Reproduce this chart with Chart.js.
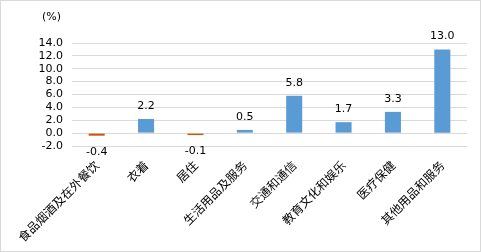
<!DOCTYPE html>
<html lang="zh">
<head>
    <meta charset="UTF-8">
    <title>各类商品及服务价格变动</title>
    <script src="https://cdn.jsdelivr.net/npm/chart.js"></script>
    <style>
        body { margin: 0; background: #fff; }
        #wrap {
            width: 481px;
            height: 252px;
            box-sizing: border-box;
            border: 1px solid #d9d9d9;
        }
    </style>
</head>
<body>
    <div id="wrap"><canvas id="priceChart" width="479" height="250"></canvas></div>
    <script>
        const categories = ['食品烟酒及在外餐饮', '衣着', '居住', '生活用品及服务', '交通和通信', '教育文化和娱乐', '医疗保健', '其他用品和服务'];
        const values = [-0.4, 2.2, -0.1, 0.5, 5.8, 1.7, 3.3, 13.0];
        const yTicks = [-2, 0, 2, 4, 6, 8, 10, 12, 14];

        // value labels above (or under, when negative) each bar, plus the (%) unit
        const valueLabels = {
            id: 'valueLabels',
            afterDatasetsDraw(chart) {
                const c = chart.ctx;
                const meta = chart.getDatasetMeta(0);
                c.save();
                c.font = '11px "DejaVu Sans", sans-serif';
                c.fillStyle = '#000';
                c.textAlign = 'center';
                c.textBaseline = 'middle';
                meta.data.forEach((bar, i) => {
                    const v = values[i];
                    const y = v >= 0 ? bar.y - 13 : bar.y + 16;
                    c.fillText(v.toFixed(1), bar.x, y);
                });
                c.textAlign = 'left';
                c.fillText('(%)', 41, 16);
                c.restore();
            }
        };

        const ctx = document.getElementById('priceChart').getContext('2d');
        new Chart(ctx, {
            type: 'bar',
            data: {
                labels: categories,
                datasets: [{
                    data: values,
                    backgroundColor: values.map(v => v < 0 ? '#c55a11' : '#5b9bd5'),
                    barPercentage: 0.65,
                    categoryPercentage: 0.5,
                    minBarLength: 2
                }]
            },
            options: {
                responsive: false,
                animation: false,
                layout: { padding: { top: 42, right: 13, bottom: 0, left: 0 } },
                plugins: {
                    legend: { display: false },
                    tooltip: { enabled: false }
                },
                scales: {
                    x: {
                        grid: { display: false, drawTicks: false },
                        border: { display: false },
                        ticks: {
                            color: '#000',
                            font: { family: '"Noto Sans CJK SC", sans-serif', size: 12 },
                            minRotation: 45,
                            maxRotation: 45,
                            autoSkip: false,
                            padding: 12,
                            labelOffset: 0
                        },
                        afterFit(scale) { scale.height = 105; }
                    },
                    y: {
                        min: -2,
                        max: 14,
                        afterBuildTicks(scale) { scale.ticks = yTicks.map(v => ({ value: v })); },
                        grid: { color: '#d9d9d9', drawTicks: false },
                        border: { display: false },
                        ticks: {
                            color: '#000',
                            font: { family: '"DejaVu Sans", sans-serif', size: 11 },
                            padding: 9,
                            autoSkip: false,
                            callback: v => v.toFixed(1)
                        },
                        afterFit(scale) { scale.width = 71; }
                    }
                }
            },
            plugins: [valueLabels]
        });
    </script>
</body>
</html>
